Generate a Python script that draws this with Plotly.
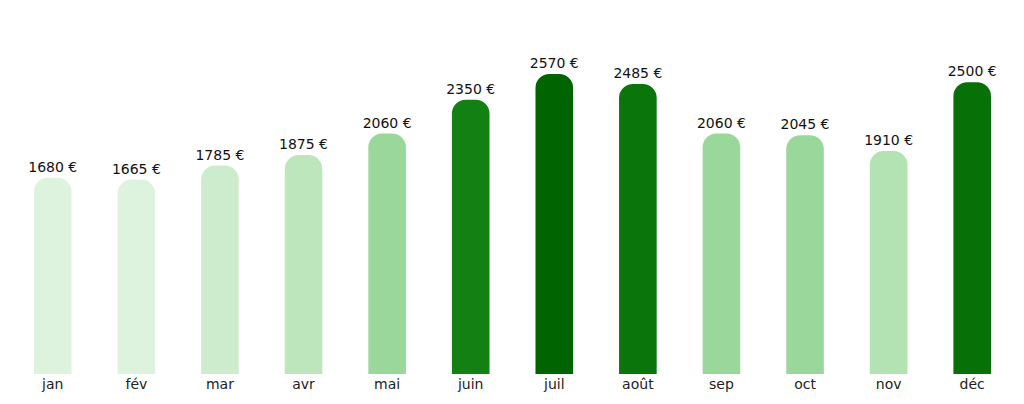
import plotly.graph_objects as go

months = ["jan", "fév", "mar", "avr", "mai", "juin", "juil", "août", "sep", "oct", "nov", "déc"]
amounts = [1680, 1665, 1785, 1875, 2060, 2350, 2570, 2485, 2060, 2045, 1910, 2500]
bar_colors = ["#ddf3dd", "#ddf3dd", "#cdeccd", "#bde6bd", "#9ad79a", "#138013",
              "#006400", "#0a750a", "#9ad79a", "#9ad79a", "#b3e2b3", "#077007"]

fig = go.Figure(go.Bar(
    x=months, y=amounts,
    width=0.45,
    marker=dict(color=bar_colors, cornerradius=14, line=dict(width=0)),
    text=[f"{v} €" for v in amounts],
    textposition="outside",
    constraintext="none",
    textfont=dict(family="DejaVu Sans", size=14, color="#111"),
    cliponaxis=False,
))

fig.update_layout(
    width=1024, height=404,
    margin=dict(l=3, r=18, t=0, b=38),
    plot_bgcolor="white", paper_bgcolor="white",
    font=dict(family="DejaVu Sans", size=14, color="#222"),
    showlegend=False,
    xaxis=dict(showgrid=False, showline=False, ticks="", range=[-0.5, 11.5]),
    yaxis=dict(visible=False, range=[0, 3135]),
)

fig.write_html("out.html")
